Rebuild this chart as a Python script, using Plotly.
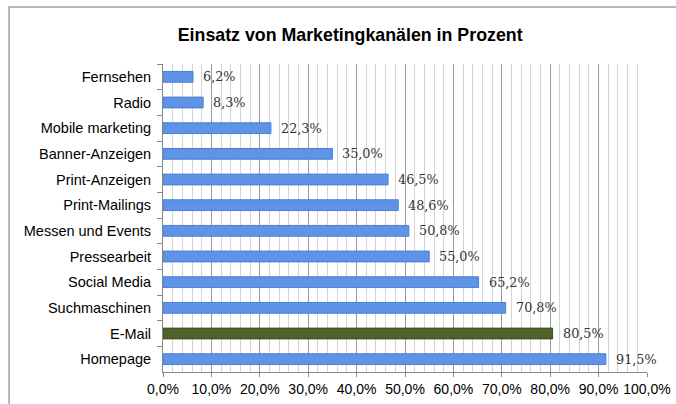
import plotly.graph_objects as go

categories = ["Fernsehen", "Radio", "Mobile marketing", "Banner-Anzeigen", "Print-Anzeigen",
              "Print-Mailings", "Messen und Events", "Pressearbeit", "Social Media",
              "Suchmaschinen", "E-Mail", "Homepage"]
values = [6.2, 8.3, 22.3, 35.0, 46.5, 48.6, 50.8, 55.0, 65.2, 70.8, 80.5, 91.5]
highlight = "E-Mail"
tick_vals = [0, 10, 20, 30, 40, 50, 60, 70, 80, 90, 100]
tick_text = ["0,0%", "10,0%", "20,0%", "30,0%", "40,0%", "50,0%", "60,0%", "70,0%", "80,0%", "90,0%", "100,0%"]

labels = [f"{v:.1f}%".replace(".", ",") for v in values]
colors = ["#4f6228" if c == highlight else "#5e93e6" for c in categories]
lines = ["#3d4d1e" if c == highlight else "#4a7fd6" for c in categories]

fig = go.Figure()
fig.add_trace(go.Bar(
    y=categories, x=values, orientation="h",
    marker=dict(color=colors, line=dict(color=lines, width=1)),
    width=0.42,
    hoverinfo="skip",
))

for c, v, t in zip(categories, values, labels):
    fig.add_annotation(x=v, y=c, text=t, showarrow=False, xanchor="left", xshift=8,
                       font=dict(family="DejaVu Serif", size=12.8, color="#333333"))

fig.add_shape(type="rect", xref="paper", yref="paper", x0=-0.318, x1=1.2, y0=-0.3, y1=1.185,
              line=dict(color="#a0a0a0", width=1.5), fillcolor="rgba(0,0,0,0)", layer="below")

fig.update_layout(
    width=676, height=404,
    margin=dict(l=163, r=29, t=64, b=32, autoexpand=False),
    paper_bgcolor="white", plot_bgcolor="white",
    showlegend=False,
    title=dict(text="<b>Einsatz von Marketingkanälen in Prozent</b>", x=0.518, xanchor="center",
               y=1 - 35 / 404, yanchor="middle",
               font=dict(family="Liberation Sans", size=17.8, color="#000000")),
    font=dict(family="Liberation Sans", size=14.5, color="#000000"),
    xaxis=dict(range=[0, 100], tickvals=tick_vals, ticktext=tick_text, showgrid=True,
               gridcolor="#9a9a9a", gridwidth=1, showline=True, linecolor="#888888",
               ticks="outside", ticklen=4, tickcolor="#888888", zeroline=False,
               tickfont=dict(size=14), automargin=False,
               minor=dict(dtick=2, showgrid=True, gridcolor="#d4d4d4", gridwidth=1)),
    yaxis=dict(autorange="reversed", showline=True, linecolor="#888888", ticks="outside",
               tickson="boundaries", ticklen=5, tickcolor="#888888", showgrid=False,
               ticklabelstandoff=8,
               tickfont=dict(size=14.5), automargin=False),
)

fig.write_html("out.html", config={"displayModeBar": False},
               post_script="document.body.style.margin='0px';")
